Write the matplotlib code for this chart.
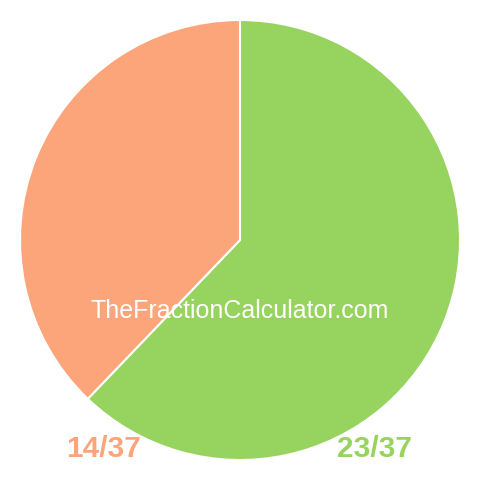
import matplotlib
matplotlib.use("Agg")
import matplotlib.pyplot as plt

labels = ["23/37", "14/37"]
values = [23, 14]
colors = ["#97d35f", "#fca57b"]

fig = plt.figure(figsize=(4.8, 4.8), dpi=100)
ax = fig.add_axes([0, 0, 1, 1])

ax.pie(values, colors=colors, startangle=90, counterclock=False,
       center=(240, 240), radius=220, frame=True,
       wedgeprops=dict(edgecolor="white", linewidth=1.5))
ax.set_xlim(0, 480)
ax.set_ylim(0, 480)
ax.set_aspect("equal")
ax.axis("off")

ax.text(240, 169, "TheFractionCalculator.com", color="white", ha="center", va="center",
        fontsize=18, family="Liberation Sans")
ax.text(103.5, 31, labels[1], color=colors[1], ha="center", va="center",
        fontsize=21.5, fontweight="bold", family="Liberation Sans")
ax.text(375, 31, labels[0], color=colors[0], ha="center", va="center",
        fontsize=21.5, fontweight="bold", family="Liberation Sans")

fig.savefig("out.png", dpi=100)
